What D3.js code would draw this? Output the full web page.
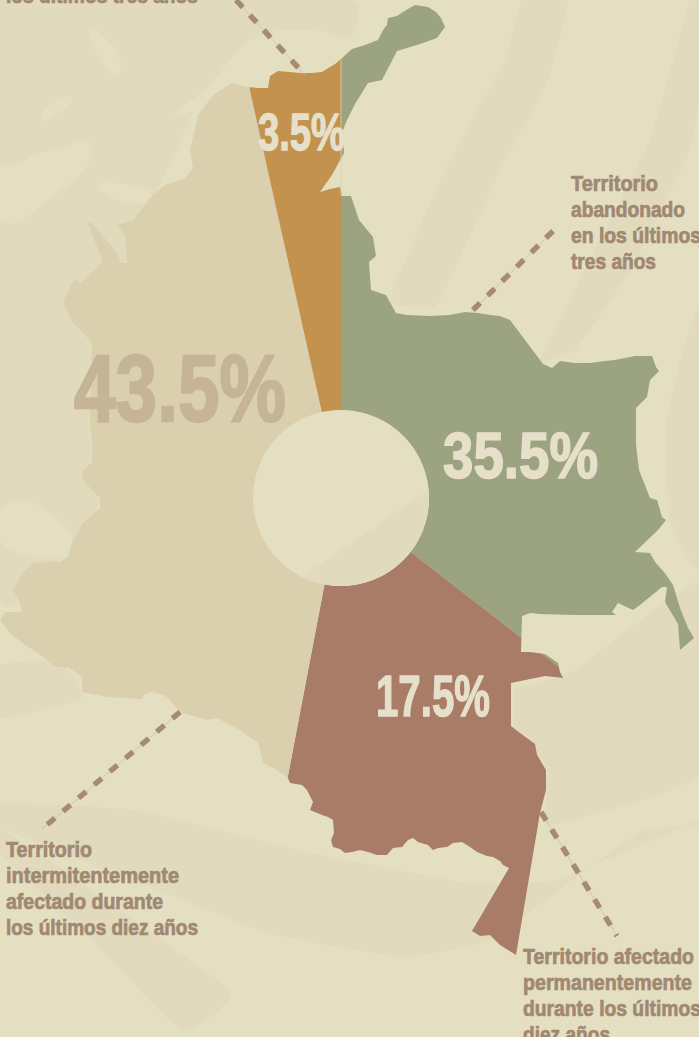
<!DOCTYPE html>
<html>
<head>
<meta charset="utf-8">
<style>
  html, body { margin: 0; padding: 0; background: #e5dfc2; overflow: hidden; }
  svg { display: block; }
  text { font-family: "Liberation Sans Narrow", "Liberation Sans", sans-serif; font-weight: 700; }
</style>
<script src="https://cdn.jsdelivr.net/npm/d3@7"></script>
</head>
<body>
<svg id="chart" width="699" height="1037"></svg>
<script>
// shares, clockwise from 12 o'clock
const categories = ['abandonado', 'permanente', 'intermitente', 'tres años'];
const shares = [35.5, 17.5, 43.5, 3.5];
const shareLabels = ['35.5%', '17.5%', '43.5%', '3.5%'];
const sliceColors = ['#9ba381', '#a87c66', '#dad0ae', '#c2924e'];

const notes = [
  ['los últimos tres años'],
  ['Territorio', 'abandonado', 'en los últimos', 'tres años'],
  ['Territorio', 'intermitentemente', 'afectado durante', 'los últimos diez años'],
  ['Territorio afectado', 'permanentemente', 'durante los últimos', 'diez años']
];

// country outline, clockwise from the north coast
const outline = [
  [248,87],[258,88],[268,88],[270,76],[278,71],[290,72],[300,73],[312,73],[322,72],[335,64],[341,59],
  [352,49],[365,45],[378,40],[383,30],[387,25],[388,18],[397,16],[403,12],[408,9],[415,5],[428,7],[436,12],[441,18],[445,27],[437,38],
  [420,44],[397,51],[382,80],[368,83],[355,104],[347,120],[343,130],[344,153],[332,175],[320,192],[330,189],[340,187],
  [342,196],[351,196],[359,220],[373,237],[376,256],[369,262],[371,290],[386,295],[396,313],[407,315],[430,316],[450,315],
  [465,312],[478,313],[490,315],[500,316],[510,320],[543,364],[552,368],[560,361],[575,363],[590,363],[605,361],[615,360],[635,356],[652,356],
  [656,367],[659,371],[650,380],[647,397],[636,408],[636,445],[639,470],[650,498],[657,500],[662,517],[666,520],[658,530],
  [635,552],[650,553],[655,562],[664,572],[673,585],[680,608],[688,628],[694,638],[680,650],[678,624],[665,602],[667,587],[662,587],
  [640,605],[633,610],[618,603],[612,612],[616,615],[575,615],[540,614],[530,613],[522,616],[521,652],[530,652],[545,654],[558,663],[560,672],
  [563,678],[555,677],[545,676],[535,678],[511,683],[511,726],[520,733],[535,744],[537,755],[546,770],[546,790],[540,813],
  [516,955],[500,945],[490,935],[480,936],[472,931],[509,868],[503,865],[500,861],[493,857],[487,856],[477,852],[470,847],[462,842],
  [453,843],[447,847],[438,848],[433,850],[428,845],[418,842],[413,838],[408,840],[402,847],[393,848],[387,855],[377,855],[368,852],
  [360,850],[352,852],[345,853],[340,849],[333,847],[331,840],[334,833],[333,820],[328,817],[322,815],[310,810],[313,802],[307,790],
  [302,785],[290,783],[288,778],[277,770],[263,763],[258,743],[240,730],[217,718],[207,720],
  [180,712],[167,697],[152,691],[143,695],[143,699],[107,697],[82,692],[82,677],[68,667],[55,667],[37,652],[25,645],[10,633],
  [0,620],[5,612],[22,612],[20,603],[13,590],[22,573],[33,563],[47,562],[60,562],[68,557],[72,543],[83,523],[100,508],[100,498],
  [83,480],[82,472],[92,462],[93,447],[90,423],[92,343],[83,333],[72,322],[63,302],[72,283],[75,279],[80,283],[103,262],
  [88,223],[92,223],[118,254],[120,263],[127,263],[125,235],[117,225],[133,220],[150,198],[165,185],[185,178],[193,168],
  [190,150],[198,115],[213,95],[232,83]
];

// faint shapes in the paper behind the map
const darkSweeps = [
  [[0,0],[350,0],[350,37],[250,40],[200,100],[110,300],[100,500],[60,560],[0,600]],
  [[522,0],[568,0],[548,80],[500,170],[437,305],[390,300],[445,170],[505,60]],
  [[690,0],[699,0],[699,100],[690,150],[633,267],[575,350],[540,360],[590,260],[650,140]],
  [[699,310],[699,570],[670,520],[665,430],[680,360]],
  [[575,670],[699,582],[699,776],[548,826],[548,770],[515,730],[515,690]],
  [[0,665],[60,660],[80,690],[80,700],[0,718]],
  [[0,803],[134,810],[312,853],[468,883],[557,880],[699,820],[699,826],[638,833],[490,940],[401,957],[267,933],[134,880],[0,827]],
  [[0,827],[230,990],[183,1032],[89,937],[0,853]]
];
const paleSweeps = [
  [[-6,160],[20,168],[33,152],[57,152],[86,136],[96,150],[84,174],[50,198],[17,226],[-6,226]],
  [[36,116],[67,92],[78,100],[43,126]],
  [[84,178],[160,188],[150,208],[110,200]],
  [[84,30],[100,28],[126,63],[116,82],[100,60]],
  [[196,96],[220,83],[243,67],[250,36],[280,28],[352,32],[345,62],[323,78],[277,74],[268,92],[248,92],[235,88],[213,104],[160,124]],
  [[-6,503],[35,496],[80,540],[72,560],[-6,556]]
];

const svg = d3.select('#chart');
const cx = 341, cy = 498, holeR = 88;
const shape = d3.line().curve(d3.curveLinearClosed);
const softDark = d3.line().curve(d3.curveCardinalClosed.tension(0.7));
const softPale = d3.line().curve(d3.curveBasisClosed);

svg.append('g').selectAll('path').data(darkSweeps).enter().append('path')
  .attr('d', softDark).attr('fill', '#e1dabc');
svg.append('g').selectAll('path').data(paleSweeps).enter().append('path')
  .attr('d', softPale).attr('fill', '#e5dfc2');

svg.append('clipPath').attr('id', 'country').append('path').attr('d', shape(outline));
svg.append('clipPath').attr('id', 'hole').append('circle').attr('cx', cx).attr('cy', cy).attr('r', holeR);

const pie = d3.pie().sort(null).value(d => d)(shares);
const arc = d3.arc().innerRadius(holeR).outerRadius(720);

svg.append('g')
  .attr('clip-path', 'url(#country)')
  .append('g').attr('transform', `translate(${cx},${cy})`)
  .selectAll('path').data(pie).enter().append('path')
  .attr('class', (d, i) => categories[i])
  .attr('d', arc)
  .attr('fill', (d, i) => sliceColors[i]);

// the hole shows the paper, with one faint band crossing its lower right
const holeG = svg.append('g').attr('clip-path', 'url(#hole)');
holeG.append('circle').attr('cx', cx).attr('cy', cy).attr('r', holeR).attr('fill', '#e5dfc2');
holeG.append('path').attr('d', shape([[300,578],[429,490],[440,600],[300,600]])).attr('fill', '#e1dabc');

// hairline on the map where orange meets green
svg.append('line').attr('x1', cx).attr('x2', cx).attr('y1', 59).attr('y2', 196)
  .attr('stroke', '#d8d0ae').attr('stroke-width', 0.8);

// leader lines: hairline with a dashed line on top
const leaders = [
  [[236,0],[305,75]],
  [[553,231],[470,313]],
  [[180,712],[42,829]],
  [[541,812],[617,936]]
];
const leaderG = svg.append('g').attr('fill', 'none');
leaders.forEach(l => {
  leaderG.append('path').attr('d', d3.line()(l)).attr('stroke', '#d0c6a6').attr('stroke-width', 1);
  leaderG.append('path').attr('d', d3.line()(l)).attr('stroke', '#a58b75').attr('stroke-width', 5.5)
    .attr('stroke-dasharray', '10 10.5');
});

// percentages
const valueSpots = [
  { x: 443, y: 478, size: 65, w: 155, fill: '#e6e0cb' },
  { x: 376, y: 716, size: 58, w: 114, fill: '#e6e0cb' },
  { x: 74, y: 421, size: 94, w: 212, fill: '#c5b596' },
  { x: 258, y: 150, size: 52, w: 87, fill: '#e6e0cb' }
];
svg.append('g').selectAll('text').data(shareLabels).enter().append('text')
  .attr('x', (d, i) => valueSpots[i].x)
  .attr('y', (d, i) => valueSpots[i].y)
  .attr('font-size', (d, i) => valueSpots[i].size)
  .attr('textLength', (d, i) => valueSpots[i].w)
  .attr('lengthAdjust', 'spacingAndGlyphs')
  .attr('fill', (d, i) => valueSpots[i].fill)
  .attr('stroke', (d, i) => valueSpots[i].fill)
  .attr('stroke-width', (d, i) => valueSpots[i].size * 0.025)
  .text(d => d);

// side notes
const noteSpots = [
  { x: 6, y: 3, w: [192] },
  { x: 571, y: 191, w: [87, 114, 130, 85] },
  { x: 6, y: 857, w: [86, 173, 157, 192] },
  { x: 523, y: 964, w: [171, 169, 178, 87] }
];
notes.forEach((lines, n) => {
  const s = noteSpots[n];
  svg.append('g').selectAll('text').data(lines).enter().append('text')
    .attr('x', s.x)
    .attr('y', (d, i) => s.y + i * 26)
    .attr('font-size', 22)
    .attr('textLength', (d, i) => s.w[i])
    .attr('lengthAdjust', 'spacingAndGlyphs')
    .attr('fill', '#a08872')
    .attr('stroke', '#a08872')
    .attr('stroke-width', 0.7)
    .text(d => d);
});
</script>
</body>
</html>
